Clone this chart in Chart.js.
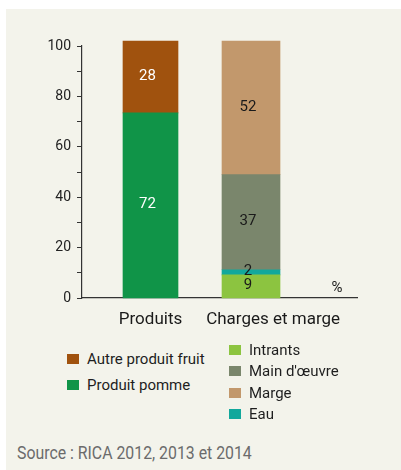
<!DOCTYPE html>
<html>
<head>
<meta charset="utf-8">
<script src="https://cdn.jsdelivr.net/npm/chart.js@4.4.1/dist/chart.umd.min.js"></script>
<style>
  html, body { margin: 0; padding: 0; background: #fff; }
  body { width: 401px; height: 470px; position: relative; overflow: hidden; font-family: Roboto, sans-serif; }
  #panel { position: absolute; left: 6px; top: 9px; right: 0; bottom: 0; background: #f3f3eb; }
  #chartBox { position: absolute; left: 0; top: 0; width: 401px; height: 340px; }
  .legendCol { position: absolute; }
  .legendItem { display: flex; align-items: center; font-size: 15px; color: #1e1e1e; white-space: nowrap; }
  .legendItem span.box { display: inline-block; width: 12px; height: 10px; margin-right: 8px; }
  #source { position: absolute; left: 17px; top: 442px; font-size: 18px; color: #6b6b6b; white-space: nowrap; transform-origin: left center; }
</style>
</head>
<body>
<div id="panel"></div>
<div id="chartBox"><canvas id="stackChart"></canvas></div>
<div class="legendCol" id="legendLeft" style="left:67px; top:346px;"></div>
<div class="legendCol" id="legendRight" style="left:229px; top:339px;"></div>
<div id="source"></div>

<script>
// chart data
const categories = ['Produits', 'Charges et marge'];
const seriesNames = ['Produit pomme', 'Autre produit fruit', 'Intrants', 'Eau', "Main d'œuvre", 'Marge'];
const seriesCategory = [0, 0, 1, 1, 1, 1];
const seriesValues = [72, 28, 9, 2, 37, 52];
const yTickLabels = [0, 20, 40, 60, 80, 100];
const unitLabel = '%';
const legendLeft = ['Autre produit fruit', 'Produit pomme'];
const legendRight = ['Intrants', "Main d'œuvre", 'Marge', 'Eau'];
const sourceText = 'Source : RICA 2012, 2013 et 2014';

// styles
const seriesColors = ['#109448', '#a0520e', '#8cc440', '#12a89c', '#7a866c', '#c2986c'];
const valueColors = ['#ffffff', '#ffffff', '#1a1a1a', '#1a1a1a', '#1a1a1a', '#1a1a1a'];
const barWidths = [55, 58];
const labelShift = [0, 0.22];

const extraText = {
    id: 'extraText',
    afterDatasetsDraw(chart) {
        const ctx = chart.ctx;
        const xs = chart.scales.x;
        ctx.save();
        ctx.textAlign = 'center';
        ctx.textBaseline = 'middle';

        // values inside the bar segments
        ctx.font = '15px Roboto';
        chart.data.datasets.forEach((ds, i) => {
            const meta = chart.getDatasetMeta(i);
            meta.data.forEach((bar, j) => {
                const p = bar.getProps(['x', 'y', 'base'], true);
                ctx.fillStyle = valueColors[i];
                ctx.fillText(String(ds.data[j].y), p.x - 3, (p.y + p.base) / 2 - 1);
            });
        });

        // unit at the end of the x axis
        ctx.fillStyle = '#1a1a1a';
        ctx.fillText(unitLabel, xs.right - 20, xs.top - 10);

        // category labels under the axis
        ctx.font = '17px Roboto';
        categories.forEach((c, i) => {
            ctx.fillText(c, xs.getPixelForValue(i + labelShift[i]), xs.top + 22);
        });
        ctx.restore();
    }
};

function buildDatasets() {
    return seriesNames.map((name, i) => ({
        label: name,
        data: [{ x: seriesCategory[i], y: seriesValues[i] }],
        backgroundColor: seriesColors[i],
        borderWidth: 0,
        barThickness: barWidths[seriesCategory[i]],
        yAxisID: 'yb',
        clip: false
    }));
}

const chart = new Chart(document.getElementById('stackChart'), {
    type: 'bar',
    data: { datasets: buildDatasets() },
    options: {
        responsive: true,
        maintainAspectRatio: false,
        animation: false,
        devicePixelRatio: 1,
        layout: { padding: { top: 46, right: 44, bottom: 0, left: 0 } },
        plugins: { legend: { display: false }, tooltip: { enabled: false } },
        scales: {
            x: {
                type: 'linear',
                stacked: true,
                offset: false,
                min: -0.6816,
                max: 2.0547,
                grid: { display: false },
                ticks: { display: false },
                border: { display: true, color: '#333', width: 1.2 },
                afterFit: (scale) => { scale.height = 42; }
            },
            y: {
                min: 0,
                max: 100,
                grid: { drawOnChartArea: false, drawTicks: true, tickLength: 5, color: '#333' },
                border: { display: true, color: '#333', width: 1.2 },
                afterFit: (scale) => { scale.width = 82; },
                ticks: {
                    stepSize: 10,
                    padding: 6,
                    color: '#222',
                    font: { family: 'Roboto', size: 14 },
                    callback: (value) => yTickLabels.includes(value) ? String(value) : ''
                }
            },
            yb: {
                display: false,
                stacked: true,
                min: 0,
                max: 98.05
            }
        }
    },
    plugins: [extraText]
});

// legend built from the datasets
function fillLegend(elId, names, rowHeight) {
    const col = document.getElementById(elId);
    names.forEach(name => {
        const ds = chart.data.datasets.find(d => d.label === name);
        const row = document.createElement('div');
        row.className = 'legendItem';
        row.style.height = rowHeight + 'px';
        row.innerHTML = `<span class="box" style="background:${ds.backgroundColor}"></span>${name}`;
        col.appendChild(row);
    });
}
fillLegend('legendLeft', legendLeft, 26);
fillLegend('legendRight', legendRight, 21.5);

const src = document.getElementById('source');
src.textContent = sourceText;
src.style.transform = `scaleX(${235 / src.offsetWidth})`;
</script>
</body>
</html>
